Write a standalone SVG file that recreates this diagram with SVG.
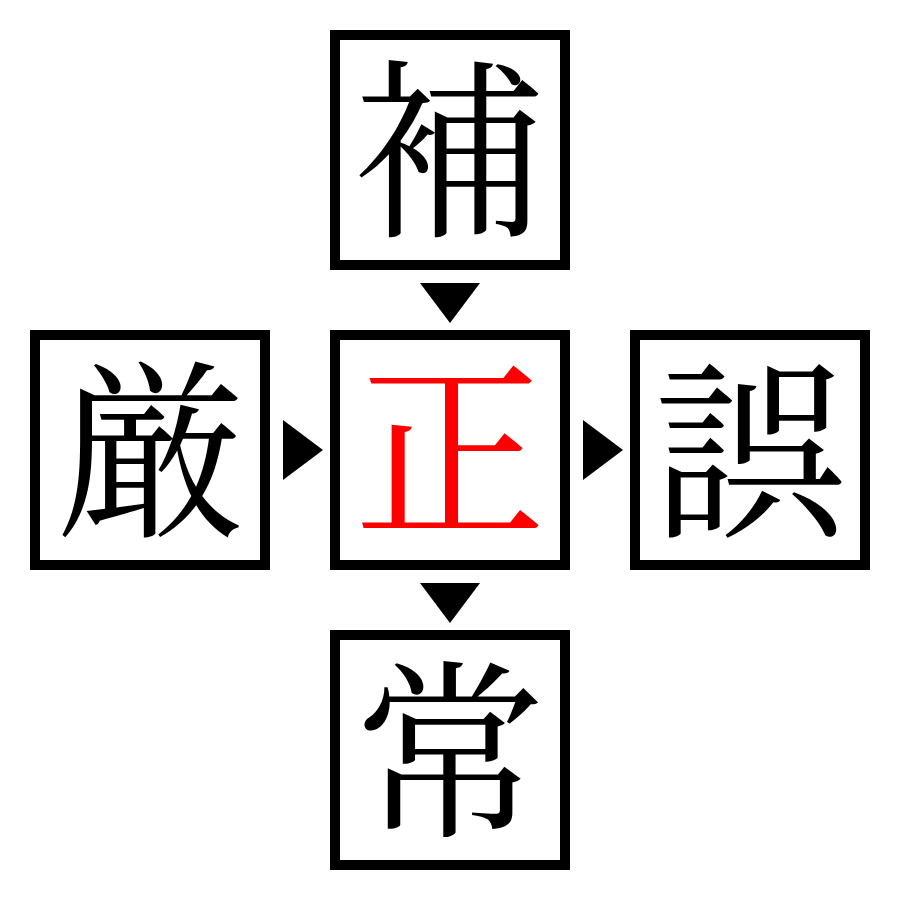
<svg xmlns="http://www.w3.org/2000/svg" width="900" height="900" viewBox="0 0 900 900">
<style>
.box{fill:#fff;stroke:#000;stroke-width:10}
.ch{font-family:"Noto Serif CJK JP","Noto Sans CJK JP",serif;font-size:192px;text-anchor:middle;dominant-baseline:central}
.ar{fill:#000}
</style>
<rect width="900" height="900" fill="#fff"/>
<g id="connectors">
<polygon class="ar" points="420,283 480,283 450,323"/>
<polygon class="ar" points="283,420 283,480 323,450"/>
<polygon class="ar" points="583,420 583,480 623,450"/>
<polygon class="ar" points="420,583 480,583 450,623"/>
</g>
<g id="n-top"><rect class="box" x="335" y="35" width="230" height="230"/><text class="ch" x="450" y="139">補</text></g>
<g id="n-left"><rect class="box" x="35" y="335" width="230" height="230"/><text class="ch" x="150" y="439">厳</text></g>
<g id="n-center"><rect class="box" x="335" y="335" width="230" height="230"/><text class="ch" x="450" y="439" fill="#f00">正</text></g>
<g id="n-right"><rect class="box" x="635" y="335" width="230" height="230"/><text class="ch" x="750" y="439">誤</text></g>
<g id="n-bottom"><rect class="box" x="335" y="635" width="230" height="230"/><text class="ch" x="450" y="739">常</text></g>
</svg>
